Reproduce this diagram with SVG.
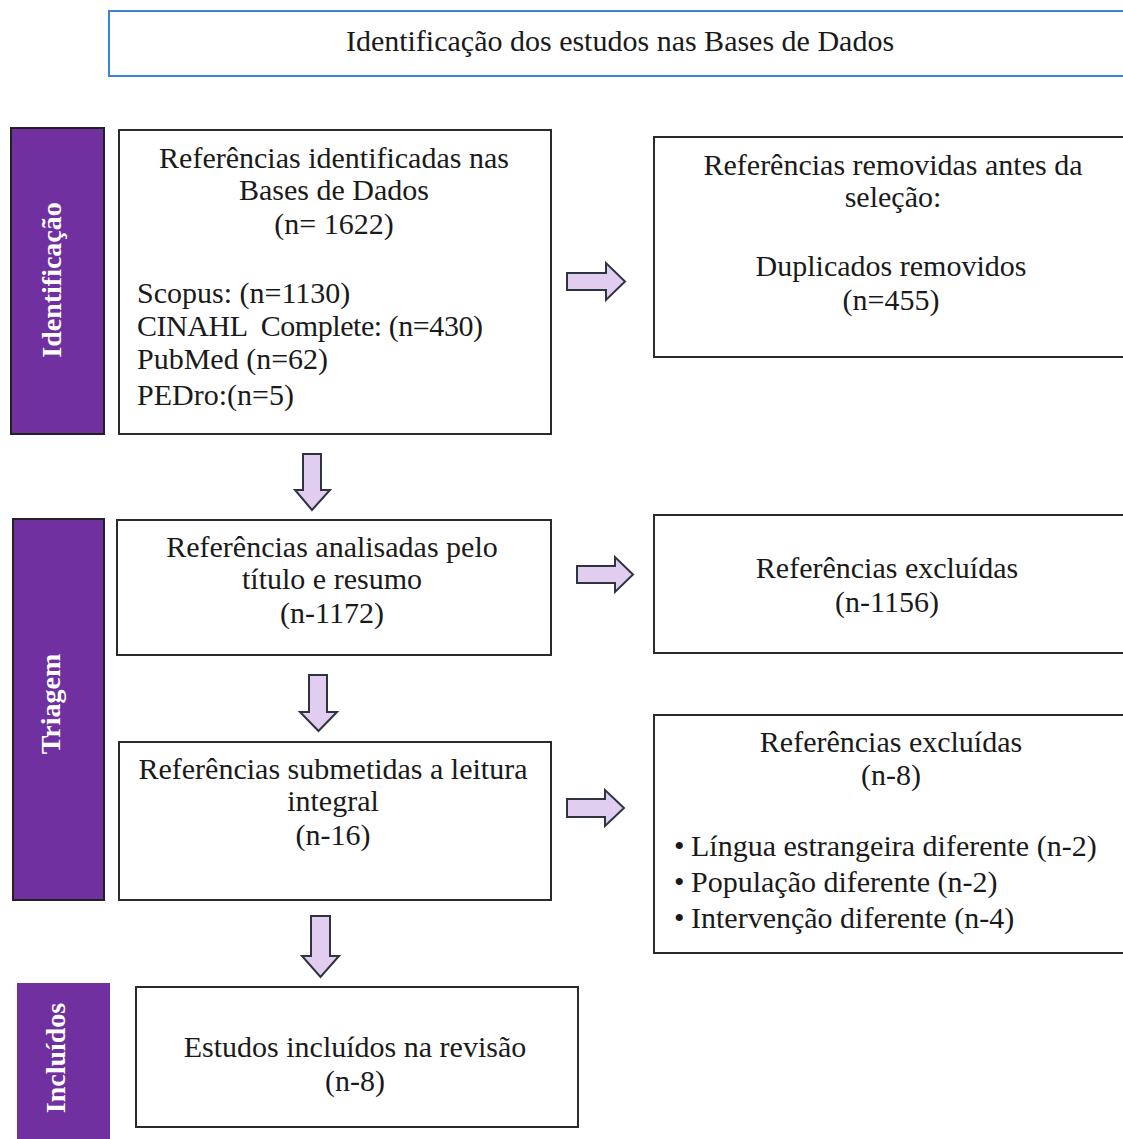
<svg xmlns="http://www.w3.org/2000/svg" width="1123" height="1139" viewBox="0 0 1123 1139">
<style>
.box{fill:#fff;stroke:#2b2b2b;stroke-width:2}
.title{fill:#fff;stroke:#3b82d4;stroke-width:2}
.bar{fill:#7030a0;stroke:#222;stroke-width:2}
.bar2{fill:#7030a0}
.t{font-family:"Liberation Serif","Times New Roman",serif;font-size:30px;fill:#1a1a1a}
.c{text-anchor:middle}
.v{font-family:"Liberation Serif","Times New Roman",serif;font-size:28px;font-weight:bold;fill:#fff;text-anchor:middle}
.arr{fill:#e1cdf0;stroke:#2e3440;stroke-width:2;stroke-linejoin:miter}
</style>
<rect width="1123" height="1139" fill="#fff"/>
<g id="title">
<rect class="title" x="109" y="11" width="1030" height="65"/>
<text class="t c" x="620" y="51" font-size="29">Identificação dos estudos nas Bases de Dados</text>
</g>
<g id="bar-identificacao">
<rect class="bar" x="11" y="128" width="93" height="306"/>
<text class="v" transform="translate(61,280) rotate(-90)">Identificação</text>
</g>
<g id="bar-triagem">
<rect class="bar" x="13" y="519" width="91" height="381"/>
<text class="v" transform="translate(60,704) rotate(-90)">Triagem</text>
</g>
<g id="bar-incluidos">
<rect class="bar2" x="17" y="983" width="93" height="170"/>
<text class="v" transform="translate(65,1058) rotate(-90)">Incluídos</text>
</g>
<g id="box-identificadas">
<rect class="box" x="119" y="130" width="432" height="304"/>
<text class="t c" x="334" y="168">Referências identificadas nas</text>
<text class="t c" x="334" y="200">Bases de Dados</text>
<text class="t c" x="334" y="234">(n= 1622)</text>
<text class="t" x="137" y="303">Scopus: (n=1130)</text>
<text class="t" x="137" y="336" style="white-space:pre" textLength="346">CINAHL  Complete: (n=430)</text>
<text class="t" x="137" y="369">PubMed (n=62)</text>
<text class="t" x="137" y="405">PEDro:(n=5)</text>
</g>
<g id="box-removidas">
<rect class="box" x="654" y="137" width="480" height="220"/>
<text class="t c" x="893" y="175">Referências removidas antes da</text>
<text class="t c" x="893" y="207">seleção:</text>
<text class="t c" x="891" y="276">Duplicados removidos</text>
<text class="t c" x="891" y="310">(n=455)</text>
</g>
<g id="box-analisadas">
<rect class="box" x="117" y="520" width="434" height="135"/>
<text class="t c" x="332" y="557">Referências analisadas pelo</text>
<text class="t c" x="332" y="589">título e resumo</text>
<text class="t c" x="332" y="623">(n-1172)</text>
</g>
<g id="box-excluidas-1">
<rect class="box" x="654" y="515" width="480" height="138"/>
<text class="t c" x="887" y="578">Referências excluídas</text>
<text class="t c" x="887" y="612">(n-1156)</text>
</g>
<g id="box-submetidas">
<rect class="box" x="119" y="742" width="432" height="158"/>
<text class="t c" x="333" y="779">Referências submetidas a leitura</text>
<text class="t c" x="333" y="811">integral</text>
<text class="t c" x="333" y="845">(n-16)</text>
</g>
<g id="box-excluidas-2">
<rect class="box" x="654" y="715" width="480" height="238"/>
<text class="t c" x="891" y="752">Referências excluídas</text>
<text class="t c" x="891" y="785">(n-8)</text>
<text class="t" y="856"><tspan x="674">•</tspan><tspan x="691">Língua estrangeira diferente (n-2)</tspan></text>
<text class="t" y="892"><tspan x="674">•</tspan><tspan x="691">População diferente (n-2)</tspan></text>
<text class="t" y="928"><tspan x="674">•</tspan><tspan x="691">Intervenção diferente (n-4)</tspan></text>
</g>
<g id="box-incluidos">
<rect class="box" x="136" y="987" width="442" height="140"/>
<text class="t c" x="355" y="1057">Estudos incluídos na revisão</text>
<text class="t c" x="355" y="1091">(n-8)</text>
</g>
<g id="connectors">
<path class="arr" d="M567,273 H606 V263 L625,281.5 L606,300 V290 H567 Z"/>
<path class="arr" d="M577,566 H615 V557 L633,574.5 L615,592 V583 H577 Z"/>
<path class="arr" d="M567,799 H605 V790 L624,808 L605,826 V817 H567 Z"/>
<path class="arr" d="M303,454 H321 V490 H330 L312,510 L295,490 H303 Z"/>
<path class="arr" d="M309,675 H327 V712 H337 L318.5,731 L300,712 H309 Z"/>
<path class="arr" d="M311,916 H330 V956 H339 L320.5,977 L302,956 H311 Z"/>
</g>
</svg>
